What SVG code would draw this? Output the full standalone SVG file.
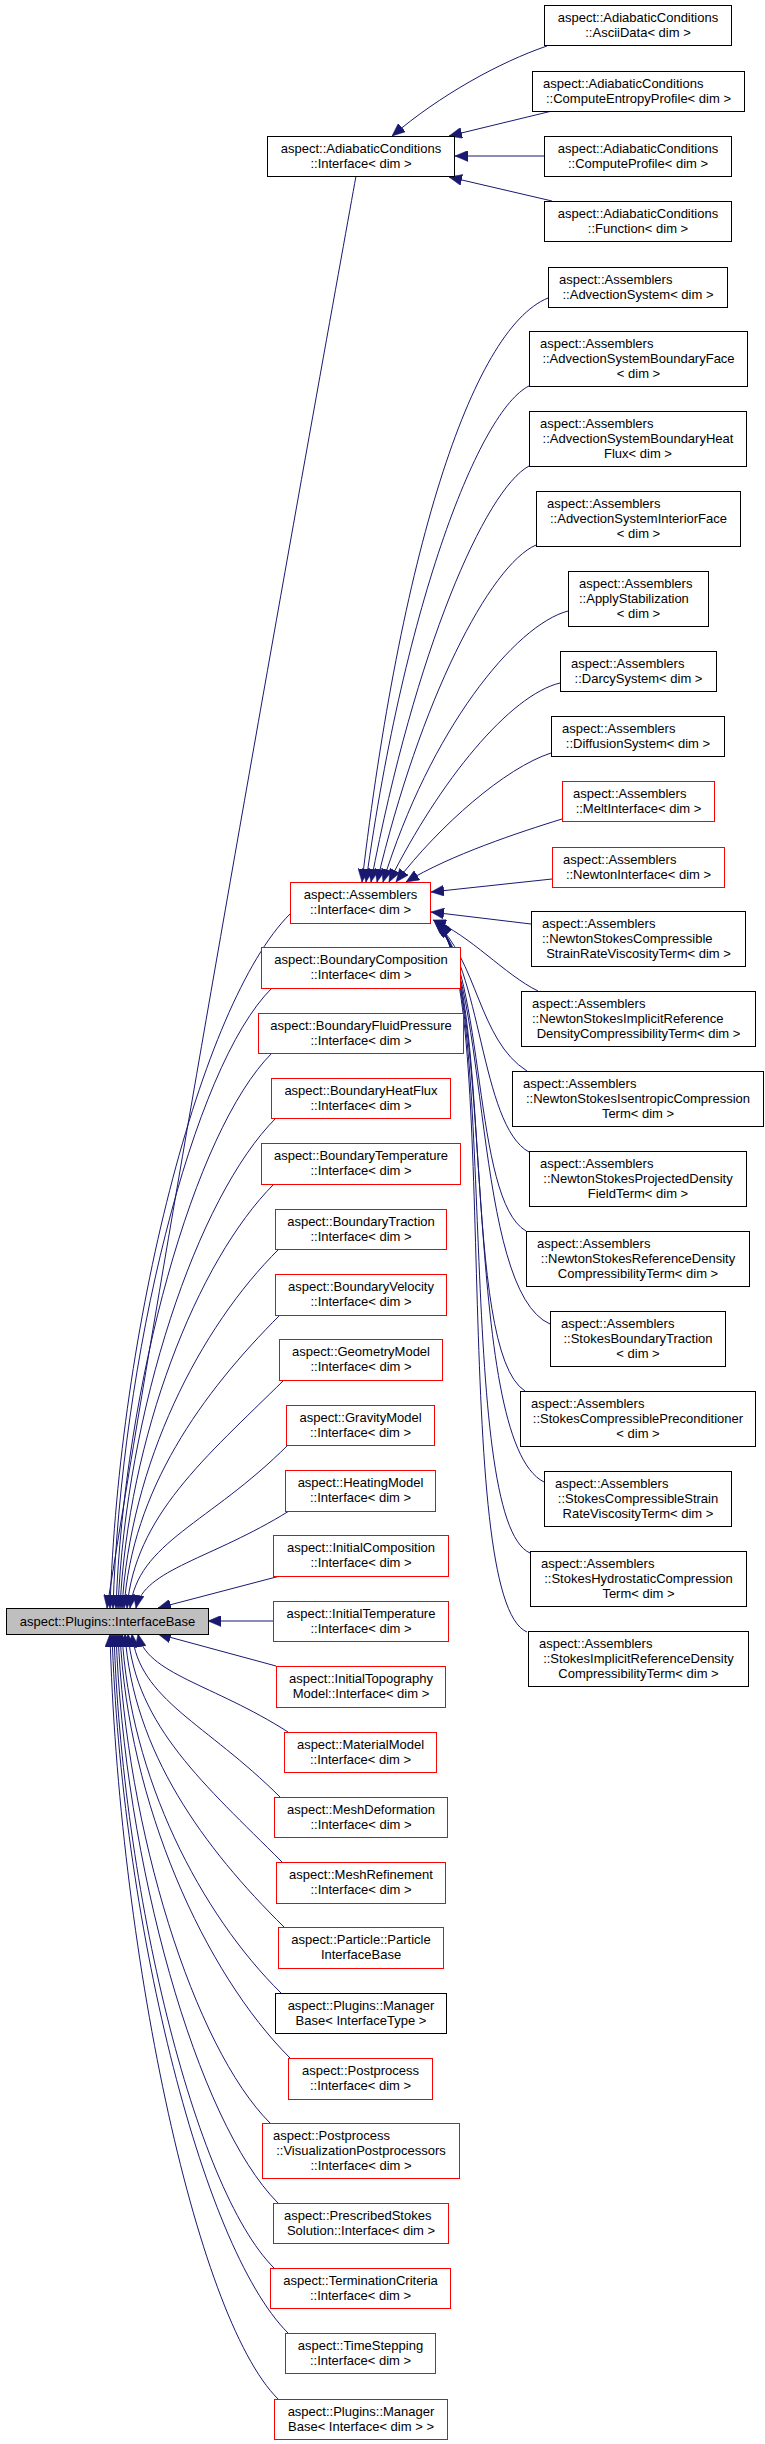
<svg xmlns="http://www.w3.org/2000/svg" width="765" height="2444" viewBox="0 0 765 2444">
<style>
text { font-family: "Liberation Sans", Arial, Helvetica, sans-serif; font-size: 13px; fill: #000; }
.c { text-anchor: middle; }
.b { fill: #fff; stroke: #000; stroke-width: 1; }
.r { fill: #fff; stroke: #ff0000; stroke-width: 1; }
.g { fill: #bfbfbf; stroke: #000; stroke-width: 1; }
.e { fill: none; stroke: #191970; stroke-width: 1; marker-end: url(#arr); }
</style>
<defs>
<marker id="arr" markerUnits="userSpaceOnUse" viewBox="0 0 13 11" refX="13" refY="5.5" markerWidth="13" markerHeight="11" orient="auto">
<path d="M0,0 L13,5.5 L0,11 z" fill="#191970" stroke="#191970" stroke-width="0.5"/>
</marker>
</defs>
<rect width="765" height="2444" fill="#fff"/>
<g id="edges">
<!-- AdiabaticConditions children -->
<path class="e" d="M547,46 C500,62 440,95 392,136"/>
<path class="e" d="M552,111 L449,136"/>
<path class="e" d="M544,156 L455,156"/>
<path class="e" d="M552,201 L449,177"/>
<!-- Assemblers children -->
<path class="e" d="M548,298 C470,330 400,560 362,882"/>
<path class="e" d="M529,386 C480,410 405,600 366,882"/>
<path class="e" d="M529,466 C485,490 415,650 371,882"/>
<path class="e" d="M536,545 C490,565 420,700 377,882"/>
<path class="e" d="M568,611 C515,625 430,730 383,882"/>
<path class="e" d="M560,683 C510,695 440,780 389,882"/>
<path class="e" d="M551,753 C505,768 440,825 396,882"/>
<path class="e" d="M562,819 C520,832 450,855 406,882"/>
<path class="e" d="M552,879 L431,892"/>
<path class="e" d="M531,924 L431,912"/>
<path class="e" d="M538,991 C505,975 470,935 433,920"/>
<path class="e" d="M527,1071 C478,1040 478,960 434,921"/>
<path class="e" d="M529,1152 C480,1125 482,965 435,922"/>
<path class="e" d="M526,1231 C472,1200 486,970 436,922"/>
<path class="e" d="M550,1324 C472,1290 490,975 436,923"/>
<path class="e" d="M525,1391 C460,1350 494,978 437,923"/>
<path class="e" d="M544,1482 C460,1440 496,980 437,924"/>
<path class="e" d="M530,1553 C455,1520 498,982 438,924"/>
<path class="e" d="M527,1632 C450,1600 500,985 438,925"/>
<!-- InterfaceBase children from above -->
<path class="e" d="M356,176 C330,320 180,1150 107,1608"/>
<path class="e" d="M290,914 C200,1004 119,1330 110,1608"/>
<path class="e" d="M272,988 C192,1067 121,1359 113,1608"/>
<path class="e" d="M272,1053 C194,1131 124,1385 116,1608"/>
<path class="e" d="M276,1118 C197,1197 126,1411 118,1608"/>
<path class="e" d="M274,1184 C197,1261 128,1438 120,1608"/>
<path class="e" d="M279,1249 C200,1327 130,1464 122,1608"/>
<path class="e" d="M280,1315 C202,1393 132,1490 124,1608"/>
<path class="e" d="M284,1380 C205,1458 135,1516 127,1608"/>
<path class="e" d="M288,1445 C209,1524 138,1542 130,1608"/>
<path class="e" d="M289,1511 C212,1559 144,1569 136,1608"/>
<path class="e" d="M280,1576 L158,1608"/>
<path class="e" d="M273,1621 L208,1621"/>
<!-- InterfaceBase children from below -->
<path class="e" d="M276,1666 L158,1634"/>
<path class="e" d="M288,1732 C213,1684 146,1674 138,1634"/>
<path class="e" d="M280,1797 C206,1723 139,1700 132,1634"/>
<path class="e" d="M282,1862 C205,1785 136,1726 128,1634"/>
<path class="e" d="M284,1927 C204,1848 133,1752 125,1634"/>
<path class="e" d="M281,1993 C201,1914 130,1778 122,1634"/>
<path class="e" d="M290,2058 C205,1973 128,1804 120,1634"/>
<path class="e" d="M270,2123 C194,2047 126,1830 118,1634"/>
<path class="e" d="M278,2203 C197,2122 124,1862 116,1634"/>
<path class="e" d="M274,2268 C194,2188 122,1888 114,1634"/>
<path class="e" d="M288,2333 C200,2245 121,1914 112,1634"/>
<path class="e" d="M278,2399 C194,2315 118,1941 110,1634"/>
</g>

<g id="base"><rect class="g" x="6.5" y="1608.5" width="202" height="26"/><text class="c" x="107.5" y="1626">aspect::Plugins::InterfaceBase</text></g>

<g id="ad_interface"><rect class="b" x="267.5" y="136.5" width="187" height="40"/><text class="c" x="361" y="153">aspect::AdiabaticConditions</text><text class="c" x="361" y="167.8">::Interface&lt; dim &gt;</text></g>
<g id="ad_ascii"><rect class="b" x="544.5" y="5.5" width="187" height="40"/><text class="c" x="638" y="22">aspect::AdiabaticConditions</text><text class="c" x="638" y="36.8">::AsciiData&lt; dim &gt;</text></g>
<g id="ad_entropy"><rect class="b" x="532.5" y="71.5" width="212" height="40"/><text x="543" y="88">aspect::AdiabaticConditions</text><text class="c" x="638.5" y="102.8">::ComputeEntropyProfile&lt; dim &gt;</text></g>
<g id="ad_profile"><rect class="b" x="544.5" y="136.5" width="187" height="40"/><text class="c" x="638" y="153">aspect::AdiabaticConditions</text><text class="c" x="638" y="167.8">::ComputeProfile&lt; dim &gt;</text></g>
<g id="ad_function"><rect class="b" x="544.5" y="201.5" width="187" height="40"/><text class="c" x="638" y="218">aspect::AdiabaticConditions</text><text class="c" x="638" y="232.8">::Function&lt; dim &gt;</text></g>

<g id="as_interface"><rect class="r" x="290.5" y="882.5" width="140" height="41"/><text class="c" x="360.5" y="899">aspect::Assemblers</text><text class="c" x="360.5" y="913.8">::Interface&lt; dim &gt;</text></g>
<g id="as_advsys"><rect class="b" x="548.5" y="267.5" width="179" height="40"/><text x="559" y="284">aspect::Assemblers</text><text class="c" x="638" y="298.8">::AdvectionSystem&lt; dim &gt;</text></g>
<g id="as_advbf"><rect class="b" x="529.5" y="331.5" width="218" height="55"/><text x="540" y="348">aspect::Assemblers</text><text class="c" x="638.5" y="362.8">::AdvectionSystemBoundaryFace</text><text class="c" x="638.5" y="377.6">&lt; dim &gt;</text></g>
<g id="as_advbhf"><rect class="b" x="529.5" y="411.5" width="217" height="55"/><text x="540" y="428">aspect::Assemblers</text><text class="c" x="638" y="442.8">::AdvectionSystemBoundaryHeat</text><text class="c" x="638" y="457.6">Flux&lt; dim &gt;</text></g>
<g id="as_advif"><rect class="b" x="536.5" y="491.5" width="204" height="55"/><text x="547" y="508">aspect::Assemblers</text><text class="c" x="638.5" y="522.8">::AdvectionSystemInteriorFace</text><text class="c" x="638.5" y="537.6">&lt; dim &gt;</text></g>
<g id="as_applystab"><rect class="b" x="568.5" y="571.5" width="140" height="55"/><text x="579" y="588">aspect::Assemblers</text><text x="579" y="602.8">::ApplyStabilization</text><text class="c" x="638.5" y="617.6">&lt; dim &gt;</text></g>
<g id="as_darcy"><rect class="b" x="560.5" y="651.5" width="156" height="40"/><text x="571" y="668">aspect::Assemblers</text><text class="c" x="638.5" y="682.8">::DarcySystem&lt; dim &gt;</text></g>
<g id="as_diffusion"><rect class="b" x="551.5" y="716.5" width="173" height="40"/><text x="562" y="733">aspect::Assemblers</text><text class="c" x="638" y="747.8">::DiffusionSystem&lt; dim &gt;</text></g>
<g id="as_melt"><rect class="r" x="562.5" y="781.5" width="152" height="40"/><text x="573" y="798">aspect::Assemblers</text><text class="c" x="638.5" y="812.8">::MeltInterface&lt; dim &gt;</text></g>
<g id="as_newton"><rect class="r" x="552.5" y="847.5" width="172" height="40"/><text x="563" y="864">aspect::Assemblers</text><text class="c" x="638.5" y="878.8">::NewtonInterface&lt; dim &gt;</text></g>
<g id="as_nscsrvt"><rect class="b" x="531.5" y="911.5" width="214" height="55"/><text x="542" y="928">aspect::Assemblers</text><text x="542" y="942.8">::NewtonStokesCompressible</text><text class="c" x="638.5" y="957.6">StrainRateViscosityTerm&lt; dim &gt;</text></g>
<g id="as_nsirdct"><rect class="b" x="521.5" y="991.5" width="234" height="55"/><text x="532" y="1008">aspect::Assemblers</text><text x="532" y="1022.8">::NewtonStokesImplicitReference</text><text class="c" x="638.5" y="1037.6">DensityCompressibilityTerm&lt; dim &gt;</text></g>
<g id="as_nsict"><rect class="b" x="512.5" y="1071.5" width="251" height="55"/><text x="523" y="1088">aspect::Assemblers</text><text class="c" x="638" y="1102.8">::NewtonStokesIsentropicCompression</text><text class="c" x="638" y="1117.6">Term&lt; dim &gt;</text></g>
<g id="as_nspdft"><rect class="b" x="529.5" y="1151.5" width="217" height="55"/><text x="540" y="1168">aspect::Assemblers</text><text class="c" x="638" y="1182.8">::NewtonStokesProjectedDensity</text><text class="c" x="638" y="1197.6">FieldTerm&lt; dim &gt;</text></g>
<g id="as_nsrdct"><rect class="b" x="526.5" y="1231.5" width="223" height="55"/><text x="537" y="1248">aspect::Assemblers</text><text class="c" x="638" y="1262.8">::NewtonStokesReferenceDensity</text><text class="c" x="638" y="1277.6">CompressibilityTerm&lt; dim &gt;</text></g>
<g id="as_sbt"><rect class="b" x="550.5" y="1311.5" width="175" height="55"/><text x="561" y="1328">aspect::Assemblers</text><text class="c" x="638" y="1342.8">::StokesBoundaryTraction</text><text class="c" x="638" y="1357.6">&lt; dim &gt;</text></g>
<g id="as_scp"><rect class="b" x="520.5" y="1391.5" width="235" height="55"/><text x="531" y="1408">aspect::Assemblers</text><text class="c" x="638" y="1422.8">::StokesCompressiblePreconditioner</text><text class="c" x="638" y="1437.6">&lt; dim &gt;</text></g>
<g id="as_scsrvt"><rect class="b" x="544.5" y="1471.5" width="187" height="55"/><text x="555" y="1488">aspect::Assemblers</text><text class="c" x="638" y="1502.8">::StokesCompressibleStrain</text><text class="c" x="638" y="1517.6">RateViscosityTerm&lt; dim &gt;</text></g>
<g id="as_shct"><rect class="b" x="530.5" y="1551.5" width="216" height="55"/><text x="541" y="1568">aspect::Assemblers</text><text class="c" x="638.5" y="1582.8">::StokesHydrostaticCompression</text><text class="c" x="638.5" y="1597.6">Term&lt; dim &gt;</text></g>
<g id="as_sirdct"><rect class="b" x="528.5" y="1631.5" width="220" height="55"/><text x="539" y="1648">aspect::Assemblers</text><text class="c" x="638.5" y="1662.8">::StokesImplicitReferenceDensity</text><text class="c" x="638.5" y="1677.6">CompressibilityTerm&lt; dim &gt;</text></g>

<g id="boundary_composition"><rect class="r" x="261.5" y="947.5" width="199" height="41"/><text class="c" x="361" y="964">aspect::BoundaryComposition</text><text class="c" x="361" y="978.8">::Interface&lt; dim &gt;</text></g>
<g id="boundary_fluid_pressure"><rect class="r" x="258.5" y="1013.5" width="205" height="40"/><text class="c" x="361" y="1030">aspect::BoundaryFluidPressure</text><text class="c" x="361" y="1044.8">::Interface&lt; dim &gt;</text></g>
<g id="boundary_heat_flux"><rect class="r" x="271.5" y="1078.5" width="179" height="40"/><text class="c" x="361" y="1095">aspect::BoundaryHeatFlux</text><text class="c" x="361" y="1109.8">::Interface&lt; dim &gt;</text></g>
<g id="boundary_temperature"><rect class="r" x="261.5" y="1143.5" width="199" height="41"/><text class="c" x="361" y="1160">aspect::BoundaryTemperature</text><text class="c" x="361" y="1174.8">::Interface&lt; dim &gt;</text></g>
<g id="boundary_traction"><rect class="r" x="275.5" y="1209.5" width="171" height="40"/><text class="c" x="361" y="1226">aspect::BoundaryTraction</text><text class="c" x="361" y="1240.8">::Interface&lt; dim &gt;</text></g>
<g id="boundary_velocity"><rect class="r" x="275.5" y="1274.5" width="171" height="41"/><text class="c" x="361" y="1291">aspect::BoundaryVelocity</text><text class="c" x="361" y="1305.8">::Interface&lt; dim &gt;</text></g>
<g id="geometry_model"><rect class="r" x="279.5" y="1339.5" width="163" height="41"/><text class="c" x="361" y="1356">aspect::GeometryModel</text><text class="c" x="361" y="1370.8">::Interface&lt; dim &gt;</text></g>
<g id="gravity_model"><rect class="r" x="286.5" y="1405.5" width="148" height="40"/><text class="c" x="360.5" y="1422">aspect::GravityModel</text><text class="c" x="360.5" y="1436.8">::Interface&lt; dim &gt;</text></g>
<g id="heating_model"><rect class="r" x="285.5" y="1470.5" width="150" height="41"/><text class="c" x="360.5" y="1487">aspect::HeatingModel</text><text class="c" x="360.5" y="1501.8">::Interface&lt; dim &gt;</text></g>
<g id="initial_composition"><rect class="r" x="273.5" y="1535.5" width="175" height="41"/><text class="c" x="361" y="1552">aspect::InitialComposition</text><text class="c" x="361" y="1566.8">::Interface&lt; dim &gt;</text></g>
<g id="initial_temperature"><rect class="r" x="273.5" y="1601.5" width="175" height="40"/><text class="c" x="361" y="1618">aspect::InitialTemperature</text><text class="c" x="361" y="1632.8">::Interface&lt; dim &gt;</text></g>
<g id="initial_topography"><rect class="r" x="276.5" y="1666.5" width="169" height="41"/><text class="c" x="361" y="1683">aspect::InitialTopography</text><text class="c" x="361" y="1697.8">Model::Interface&lt; dim &gt;</text></g>
<g id="material_model"><rect class="r" x="284.5" y="1732.5" width="152" height="40"/><text class="c" x="360.5" y="1749">aspect::MaterialModel</text><text class="c" x="360.5" y="1763.8">::Interface&lt; dim &gt;</text></g>
<g id="mesh_deformation"><rect class="r" x="274.5" y="1797.5" width="173" height="40"/><text class="c" x="361" y="1814">aspect::MeshDeformation</text><text class="c" x="361" y="1828.8">::Interface&lt; dim &gt;</text></g>
<g id="mesh_refinement"><rect class="r" x="276.5" y="1862.5" width="169" height="41"/><text class="c" x="361" y="1879">aspect::MeshRefinement</text><text class="c" x="361" y="1893.8">::Interface&lt; dim &gt;</text></g>
<g id="particle_interface"><rect class="r" x="278.5" y="1927.5" width="165" height="41"/><text class="c" x="361" y="1944">aspect::Particle::Particle</text><text class="c" x="361" y="1958.8">InterfaceBase</text></g>
<g id="manager_base_type"><rect class="b" x="275.5" y="1993.5" width="171" height="40"/><text class="c" x="361" y="2010">aspect::Plugins::Manager</text><text class="c" x="361" y="2024.8">Base&lt; InterfaceType &gt;</text></g>
<g id="postprocess_interface"><rect class="r" x="288.5" y="2058.5" width="144" height="41"/><text class="c" x="360.5" y="2075">aspect::Postprocess</text><text class="c" x="360.5" y="2089.8">::Interface&lt; dim &gt;</text></g>
<g id="visualization_interface"><rect class="r" x="262.5" y="2123.5" width="197" height="55"/><text x="273" y="2140">aspect::Postprocess</text><text class="c" x="361" y="2154.8">::VisualizationPostprocessors</text><text class="c" x="361" y="2169.6">::Interface&lt; dim &gt;</text></g>
<g id="prescribed_stokes"><rect class="r" x="273.5" y="2203.5" width="175" height="40"/><text x="284" y="2220">aspect::PrescribedStokes</text><text class="c" x="361" y="2234.8">Solution::Interface&lt; dim &gt;</text></g>
<g id="termination_criteria"><rect class="r" x="270.5" y="2268.5" width="180" height="40"/><text class="c" x="360.5" y="2285">aspect::TerminationCriteria</text><text class="c" x="360.5" y="2299.8">::Interface&lt; dim &gt;</text></g>
<g id="time_stepping"><rect class="r" x="285.5" y="2333.5" width="150" height="40"/><text class="c" x="360.5" y="2350">aspect::TimeStepping</text><text class="c" x="360.5" y="2364.8">::Interface&lt; dim &gt;</text></g>
<g id="manager_base_interface"><rect class="r" x="274.5" y="2399.5" width="173" height="40"/><text class="c" x="361" y="2416">aspect::Plugins::Manager</text><text class="c" x="361" y="2430.8">Base&lt; Interface&lt; dim &gt; &gt;</text></g>
</svg>
